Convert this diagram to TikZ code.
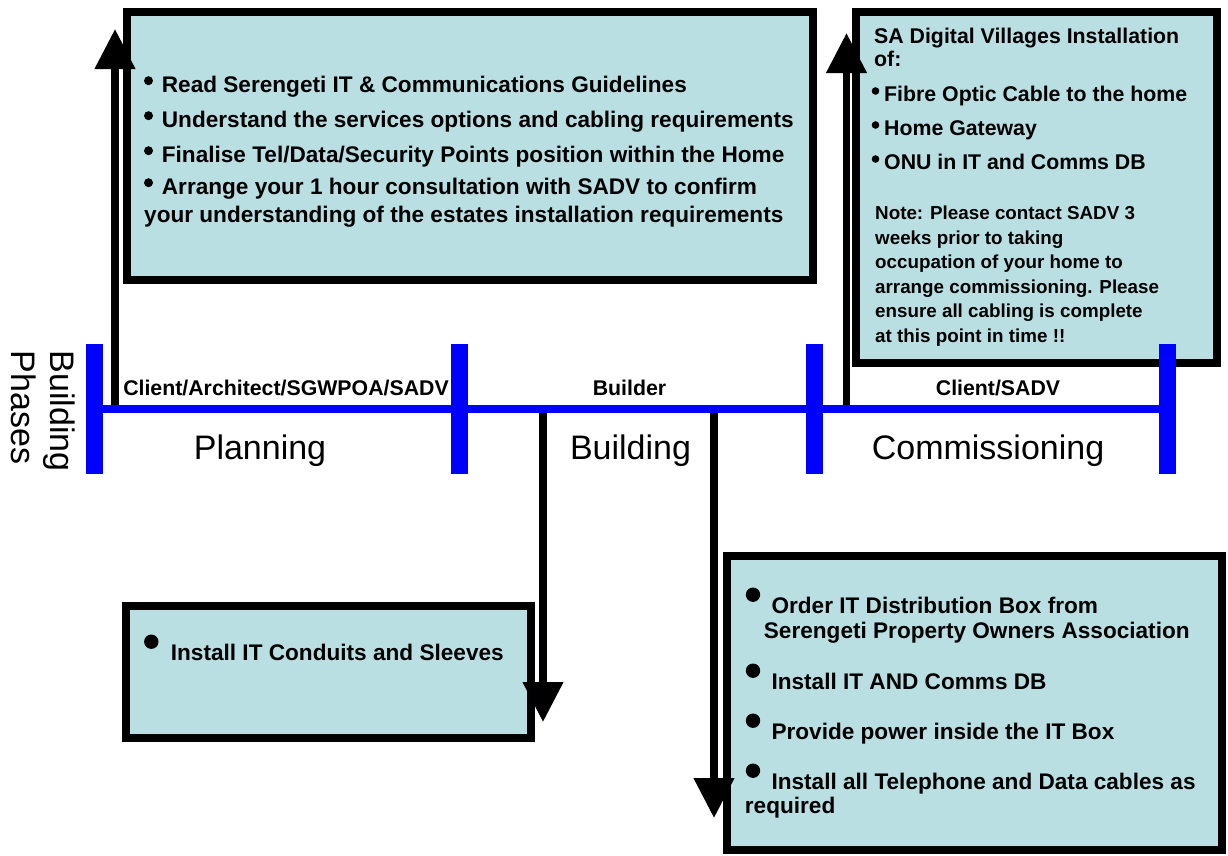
\documentclass[tikz,border=0pt]{standalone}
\usepackage{fontspec}
\setmainfont{Liberation Sans}
\usetikzlibrary{arrows.meta}
\definecolor{notefill}{RGB}{185,223,226}
\definecolor{phaseblue}{RGB}{0,0,255}
\begin{document}
\begin{tikzpicture}[x=1pt,y=-1pt,
  infobox/.style={draw=black, line width=8pt, fill=notefill},
  flow/.style={draw=black, line width=7.5pt, -{Triangle[width=39pt,length=40pt]}},
  timeline/.style={draw=phaseblue, line width=8pt},
  phasetick/.style={draw=phaseblue, line width=17pt},
  bigtxt/.style={anchor=base west, inner sep=0pt, font=\bfseries\fontsize{22.6}{27}\selectfont},
  midtxt/.style={anchor=base west, inner sep=0pt, font=\bfseries\fontsize{21.3}{25}\selectfont},
  notetxt/.style={anchor=base west, inner sep=0pt, font=\bfseries\fontsize{18.8}{23}\selectfont},
  rolelabel/.style={anchor=base, inner sep=0pt, font=\bfseries\fontsize{21.3}{25}\selectfont},
  phaselabel/.style={anchor=base, inner sep=0pt, font=\fontsize{34}{40}\selectfont}
]
\useasboundingbox (0,0) rectangle (1228,855);

% information boxes
\draw[infobox] (127,12) rectangle (813,280);
\draw[infobox] (856,12) rectangle (1217,363);
\draw[infobox] (126,606) rectangle (531,738);
\draw[infobox] (727,556) rectangle (1222,850);

% arrow end points on the timeline and beside the boxes
\coordinate (planStart) at (115,408);
\coordinate (planEnd) at (115,29);
\coordinate (buildStartA) at (543,412);
\coordinate (buildEndA) at (543,722);
\coordinate (buildStartB) at (714,412);
\coordinate (buildEndB) at (714,818);
\coordinate (commStart) at (846.5,410);
\coordinate (commEnd) at (846.5,33);

\draw[flow] (planStart) -- (planEnd);
\draw[flow] (buildStartA) -- (buildEndA);
\draw[flow] (buildStartB) -- (buildEndB);
\draw[flow] (commStart) -- (commEnd);

% timeline and phase boundaries
\coordinate (lineStart) at (94.5,409);
\coordinate (lineEnd) at (1167.5,409);
\draw[timeline] (lineStart) -- (lineEnd);
\foreach \tx in {94.5,459.5,814,1167.5}
  \draw[phasetick] (\tx,344) -- (\tx,474);

% phase captions
\node[anchor=base, inner sep=0pt, rotate=-90, font=\fontsize{34}{40}\selectfont] (capA) at (50,411) {Building};
\node[anchor=base, inner sep=0pt, rotate=-90, font=\fontsize{34}{40}\selectfont] (capB) at (12,407.5) {Phases};

\node[rolelabel] (roleA) at (286,395.5) {Client/Architect/SGWPOA/SADV};
\node[rolelabel] (roleB) at (629.5,395.5) {Builder};
\node[rolelabel] (roleC) at (998,395.5) {Client/SADV};

\node[phaselabel] (phA) at (260,459.5) {Planning};
\node[phaselabel] (phB) at (630.5,459.5) {Building};
\node[phaselabel] (phC) at (988,459.5) {Commissioning};

% planning box text
\foreach \by in {92,127,162,194}
  \fill (148.5,\by-11.3) circle (4.5pt);
\node[bigtxt] (p1) at (161.7,92) {Read Serengeti IT \& Communications Guidelines};
\node[bigtxt] (p2) at (161.7,127) {Understand the services options and cabling requirements};
\node[bigtxt] (p3) at (161.7,162) {Finalise Tel/Data/Security Points position within the Home};
\node[bigtxt] (p4) at (161.7,194) {Arrange your 1 hour consultation with SADV to confirm};
\node[bigtxt] (p5) at (144,222) {your understanding of the estates installation requirements};

% commissioning box text
\node[midtxt] (c0) at (874,43) {SA Digital Villages Installation};
\node[midtxt] (c0b) at (874,66) {of:};
\foreach \by in {101,135,169}
  \fill (875.5,\by-10) circle (3.8pt);
\node[midtxt] (c1) at (884,101) {Fibre Optic Cable to the home};
\node[midtxt] (c2) at (884,135) {Home Gateway};
\node[midtxt] (c3) at (884,169) {ONU in IT and Comms DB};
\node[notetxt] (n1) at (875,219) {Note: Please contact SADV 3};
\node[notetxt] (n2) at (875,244) {weeks prior to taking};
\node[notetxt] (n3) at (875,268) {occupation of your home to};
\node[notetxt] (n4) at (875,293) {arrange commissioning. Please};
\node[notetxt] (n5) at (875,317) {ensure all cabling is complete};
\node[notetxt] (n6) at (875,342) {at this point in time !!};

% building box texts
\fill (151.3,641.7) circle (7.2pt);
\node[bigtxt] (b1) at (170.7,660) {Install IT Conduits and Sleeves};

\foreach \cy in {594.7,670.7,720.7,770.7}
  \fill (753,\cy) circle (7.2pt);
\node[bigtxt] (d1) at (771.3,613.7) {Order IT Distribution Box from};
\node[bigtxt] (d1b) at (763.7,638) {Serengeti Property Owners Association};
\node[bigtxt] (d2) at (771.3,689.7) {Install IT AND Comms DB};
\node[bigtxt] (d3) at (771.3,739.7) {Provide power inside the IT Box};
\node[bigtxt] (d4) at (771.3,789.7) {Install all Telephone and Data cables as};
\node[bigtxt] (d4b) at (744.7,813) {required};
\end{tikzpicture}
\end{document}
